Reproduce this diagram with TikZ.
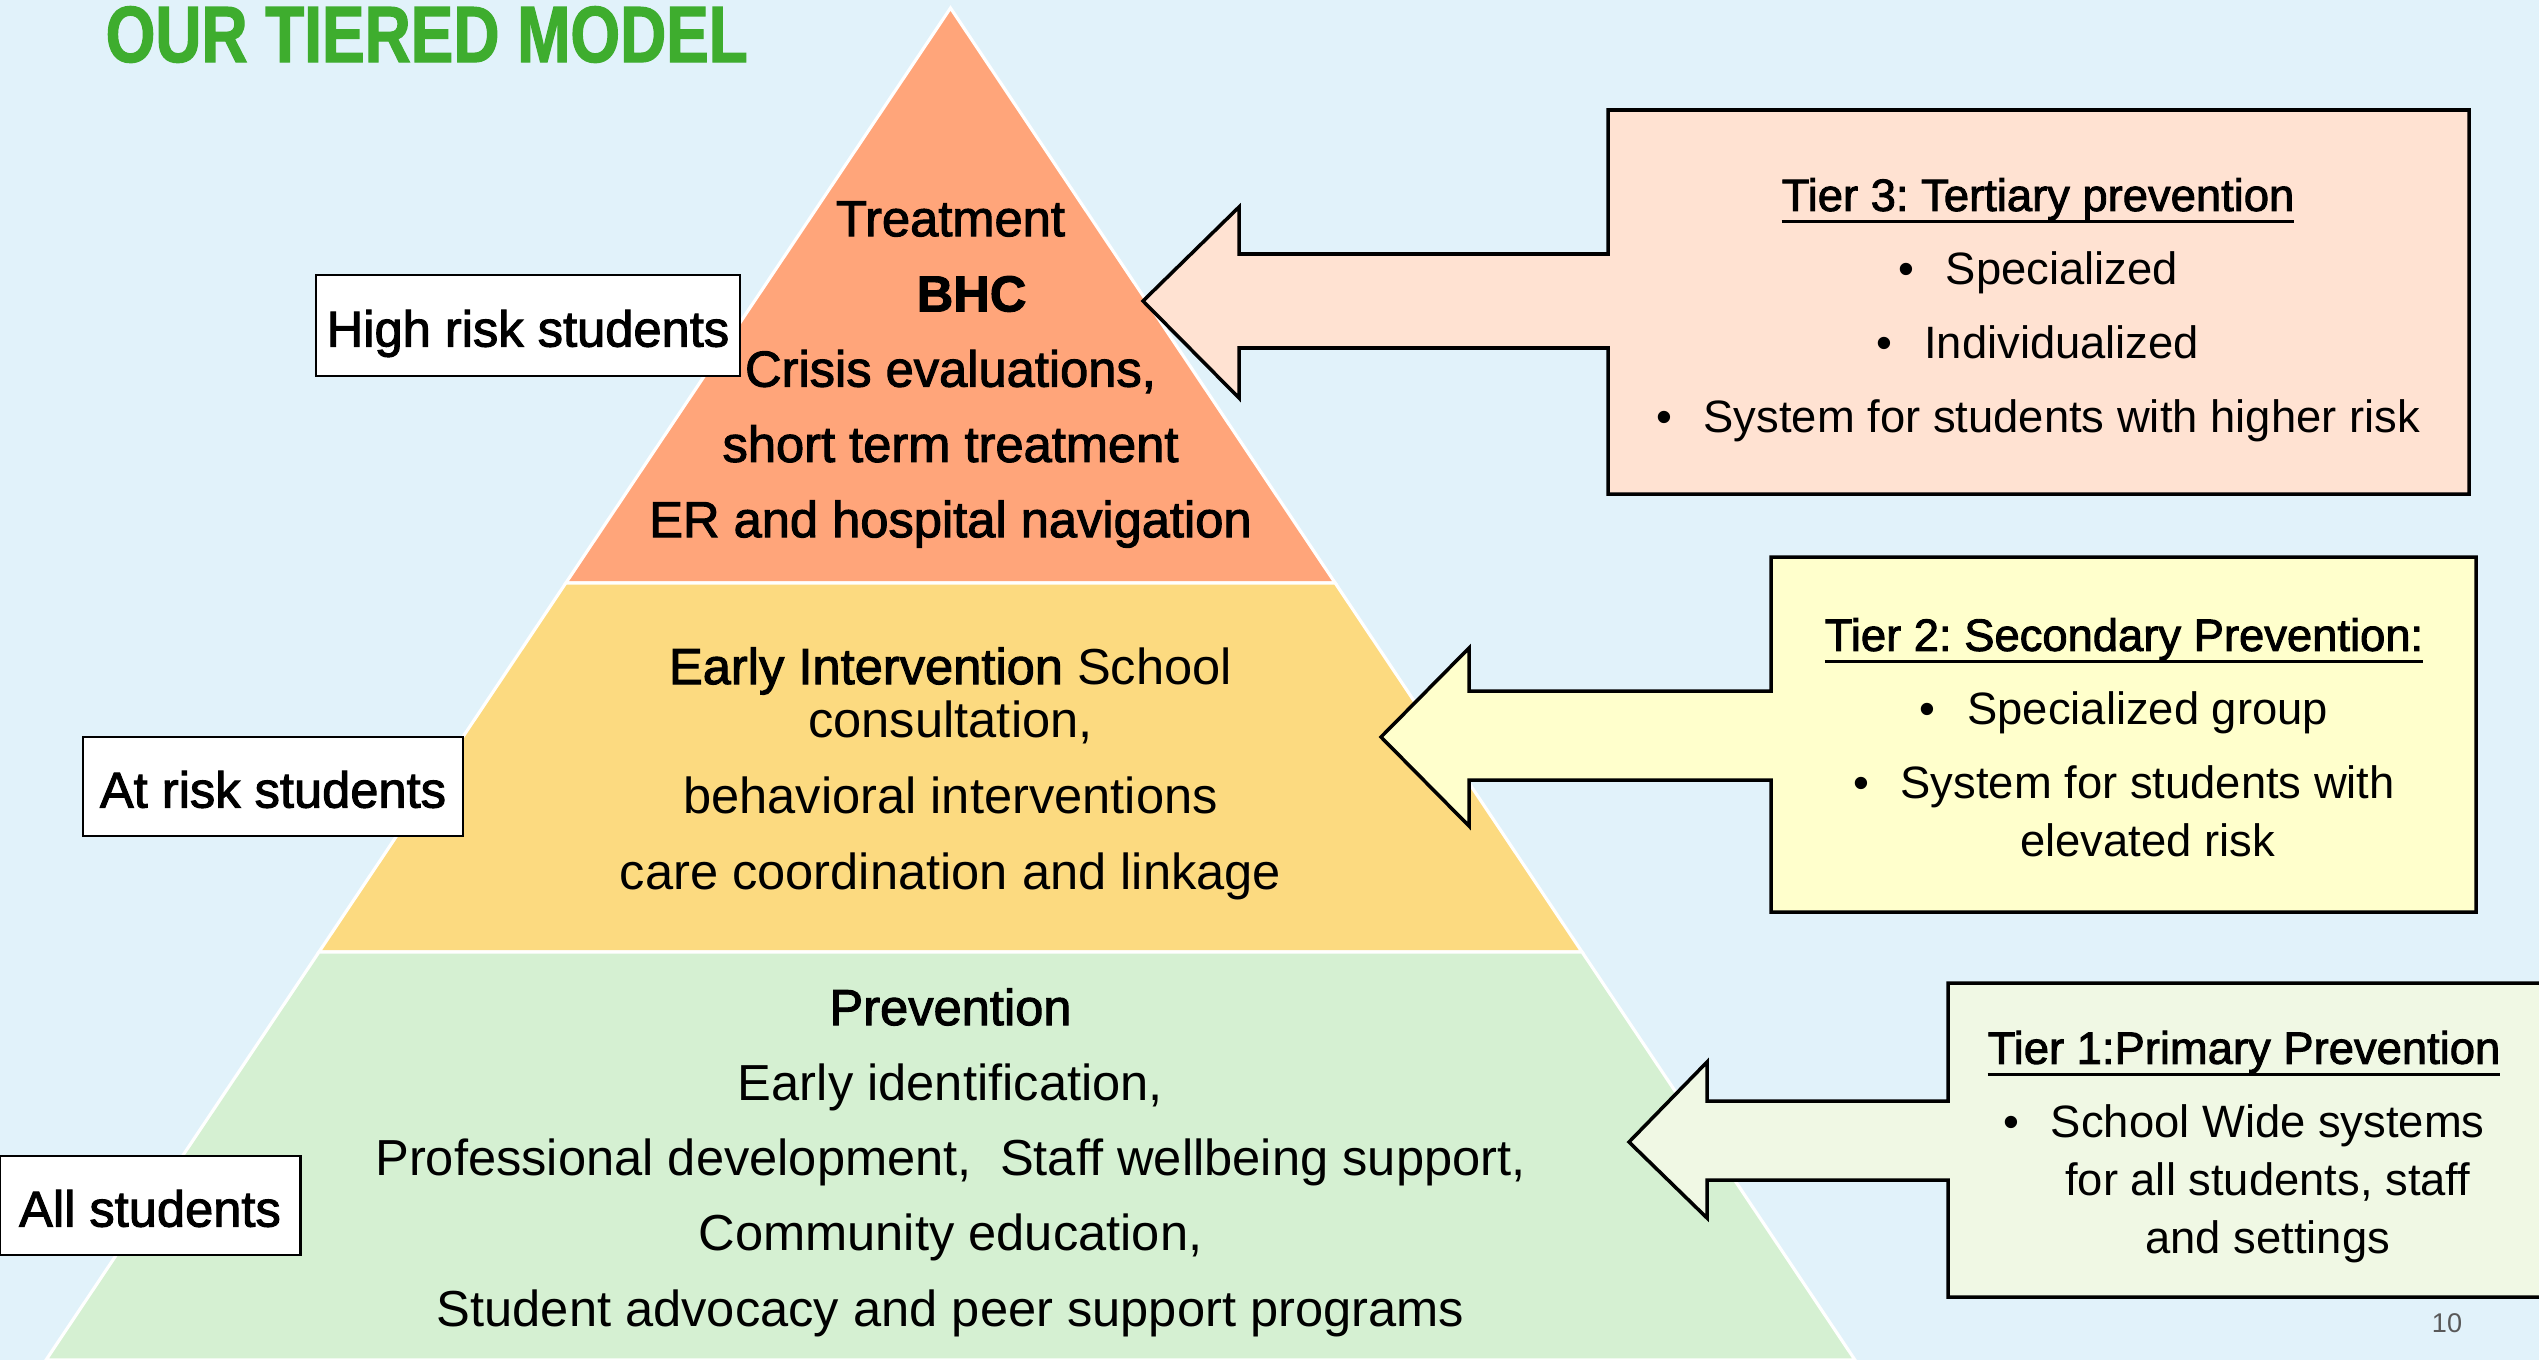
\documentclass[tikz,border=0pt]{standalone}
\usepackage{fontspec}
\setmainfont{Liberation Sans}
\newfontfamily\medfont{Liberation Sans}[FakeBold=2]
\newfontfamily\titlefont{Liberation Sans}[FakeStretch=0.8, FakeBold=1.5]
\frenchspacing
\def\slope{0.669}
\newcommand{\headline}[1]{\sbox0{\medfont #1}\rlap{\rule[-3.4pt]{\wd0}{0.9pt}}\usebox0}
\definecolor{bgblue}{RGB}{225,242,250}
\definecolor{tierthree}{RGB}{255,165,122}
\definecolor{tiertwo}{RGB}{252,218,128}
\definecolor{tierone}{RGB}{213,240,210}
\definecolor{boxthree}{RGB}{255,226,210}
\definecolor{boxtwo}{RGB}{255,255,204}
\definecolor{boxone}{RGB}{240,248,228}
\definecolor{titlegreen}{RGB}{62,173,46}
\definecolor{pagegray}{RGB}{89,89,89}

\begin{document}
\begin{tikzpicture}[x=0.01cm, y=-0.01cm,
    tier/.style={draw=white, line width=0.9pt},
    arrowbox/.style={draw=black, line width=1pt, line join=miter},
    riskbox/.style={draw=black, fill=white, line width=0.7pt, inner sep=0pt,
      text height=12pt, text depth=0pt, font=\medfont\fontsize{14.4pt}{17pt}\selectfont},
    pyrtext/.style={align=center, inner sep=0pt},
    boxtext/.style={align=center, inner sep=0pt, font=\fontsize{12.9pt}{16.5pt}\selectfont}]
  \clip (0,0) rectangle (2539,1360);
  \fill[bgblue] (0,0) rectangle (2539,1360);

  % pyramid tiers
  \foreach \ya/\yb/\col in {8/583/tierthree, 583/952/tiertwo, 952/1360/tierone}
    \filldraw[tier, fill=\col] ({950.5-\slope*(\ya-8)},\ya) -- ({950.5+\slope*(\ya-8)},\ya)
      -- ({950.5+\slope*(\yb-8)},\yb) -- ({950.5-\slope*(\yb-8)},\yb) -- cycle;

  % callout boxes with arrows
  \filldraw[arrowbox, fill=boxthree] (1608,110) -- (2469,110) -- (2469,494) -- (1608,494)
    -- (1608,348) -- (1239,348) -- (1239,398) -- (1143,301) -- (1239,207) -- (1239,254)
    -- (1608,254) -- cycle;
  \filldraw[arrowbox, fill=boxtwo] (1771,557) -- (2476,557) -- (2476,912) -- (1771,912)
    -- (1771,780) -- (1469,780) -- (1469,826) -- (1381,737) -- (1469,648) -- (1469,691)
    -- (1771,691) -- cycle;
  \filldraw[arrowbox, fill=boxone] (1948,983) -- (2560,983) -- (2560,1297) -- (1948,1297)
    -- (1948,1180) -- (1707,1180) -- (1707,1218) -- (1629,1142) -- (1707,1062) -- (1707,1101)
    -- (1948,1101) -- cycle;

  \node[anchor=base west, inner sep=0pt, text=titlegreen,
    font=\titlefont\bfseries\fontsize{22.7pt}{26pt}\selectfont] (title) at (105,62) {OUR TIERED MODEL};

  \node[pyrtext, font=\medfont\fontsize{14.4pt}{21.4pt}\selectfont] (treat) at (950.5,374.5)
    {Treatment\\ \hspace*{12pt}\textbf{BHC}\\ Crisis evaluations,\\ short term treatment\\ ER and hospital navigation};
  \node[pyrtext, font=\fontsize{14.4pt}{15.1pt}\selectfont] (early) at (950.5,773.5)
    {{\medfont Early Intervention} School\\ consultation,\\[6.5pt] behavioral interventions\\[6.5pt] care coordination and linkage};
  \node[pyrtext, font=\fontsize{14.4pt}{21.4pt}\selectfont] (prev) at (950.5,1162.5)
    {{\medfont Prevention}\\ Early identification,\\ Professional development,\ \ Staff wellbeing support,\\ Community education,\\ Student advocacy and peer support programs};

  \node[riskbox, minimum width=4.24cm, minimum height=1.01cm] (high) at (528,325.5) {High risk students};
  \node[riskbox, minimum width=3.80cm, minimum height=0.99cm] (atrisk) at (273,786.5) {At risk students};
  \node[riskbox, minimum width=3.01cm, minimum height=0.99cm] (all) at (150,1205.5) {All students};

  \node[boxtext] (tthree) at (2038,310)
    {\headline{Tier 3: Tertiary prevention}\\[4.5pt] \textbullet\hspace{9pt}Specialized\\[4.5pt]
     \textbullet\hspace{9pt}Individualized\\[4.5pt] \textbullet\hspace{9pt}System for students with higher risk};
  \node[boxtext] (ttwo) at (2124,746)
    {\headline{Tier 2: Secondary Prevention:}\\[4.5pt] \textbullet\hspace{9pt}Specialized group\\[4.5pt]
     \textbullet\hspace{9pt}\begin{tabular}[t]{@{}c@{}}System for students with\\ elevated risk\end{tabular}};
  \node[boxtext] (tone) at (2244,1151)
    {\headline{Tier 1:Primary Prevention}\\[4.5pt]
     \textbullet\hspace{9pt}\begin{tabular}[t]{@{}c@{}}School Wide systems\\ for all students, staff\\ and settings\end{tabular}};

  \node[text=pagegray, font=\fontsize{7.7pt}{9pt}\selectfont] (pagenum) at (2447,1323) {10};
\end{tikzpicture}
\end{document}
